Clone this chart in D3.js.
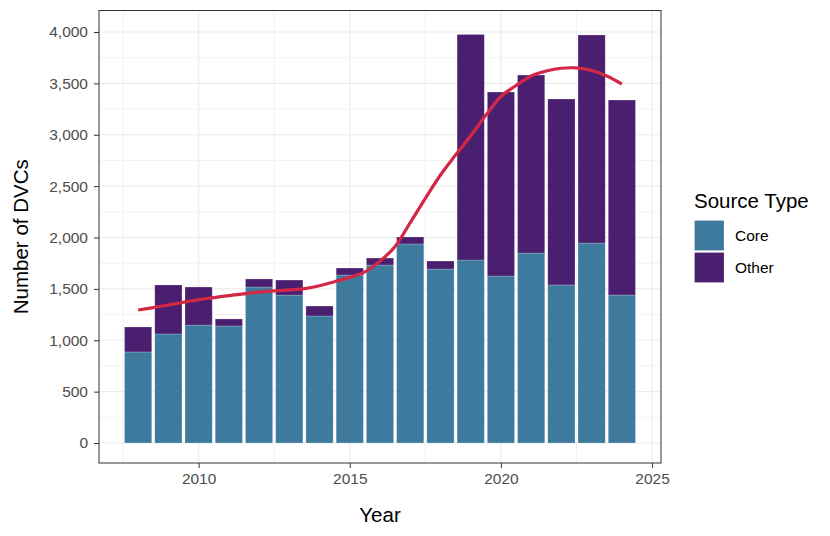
<!DOCTYPE html>
<html><head><meta charset="utf-8">
<script src="https://cdn.jsdelivr.net/npm/d3@7"></script>
<style>body{margin:0;background:#fff}svg{display:block}</style>
</head><body>
<script>
const years = [2008,2009,2010,2011,2012,2013,2014,2015,2016,2017,2018,2019,2020,2021,2022,2023,2024];
const coreValues  = [886,1061,1148,1139,1518,1440,1236,1635,1732,1937,1693,1781,1625,1849,1538,1946,1440];
const totalValues = [1129,1538,1518,1207,1596,1586,1333,1703,1800,2005,1771,3976,3416,3581,3348,3971,3338];
const otherValues = totalValues.map((t,i)=>t-coreValues[i]);
const smoothYears = [2008,2008.5,2009,2009.5,2010,2010.5,2011,2011.5,2012,2012.5,2013,2013.5,2014,2014.5,2015,2015.5,2016,2016.5,2017,2017.5,2018,2018.5,2019,2019.5,2020,2020.5,2021,2021.5,2022,2022.5,2023,2023.5,2024];
const smoothValues = [1294,1318,1343,1370,1395,1415,1435,1452,1468,1480,1490,1502,1530,1570,1612,1665,1770,1913,2145,2381,2608,2803,2991,3189,3372,3479,3572,3620,3647,3650,3625,3572,3494];
const yTicks = [0,500,1000,1500,2000,2500,3000,3500,4000];
const xTicks = [2010,2015,2020,2025];
const seriesNames = ["Core","Other"];
const colors = {Core:"#3E7A9E", Other:"#4B1F70"};

const W=830,H=536;
const pL=99,pR=661,pT=10.5,pB=463;
const svg=d3.select("body").append("svg").attr("width",W).attr("height",H);
const font="'Liberation Sans', Arial, sans-serif";

const x=d3.scaleLinear().domain([2006.705,2025.295]).range([pL,pR]);
const y=d3.scaleLinear().domain([0,4000]).range([443,32]);

svg.append("rect").attr("x",pL).attr("y",pT).attr("width",pR-pL).attr("height",pB-pT).attr("fill","#fff");
const g=svg.append("g");
const yMinor=yTicks.slice(0,-1).map(v=>v+250).concat([-250]).filter(v=>y(v)>pT&&y(v)<pB);
const xMinor=[2007.5,2012.5,2017.5,2022.5];
g.selectAll(".ym").data(yMinor).join("line").attr("x1",pL).attr("x2",pR).attr("y1",d=>y(d)).attr("y2",d=>y(d)).attr("stroke","#ebebeb").attr("stroke-width",0.6);
g.selectAll(".xm").data(xMinor).join("line").attr("y1",pT).attr("y2",pB).attr("x1",d=>x(d)).attr("x2",d=>x(d)).attr("stroke","#ebebeb").attr("stroke-width",0.6);
g.selectAll(".yM").data(yTicks).join("line").attr("x1",pL).attr("x2",pR).attr("y1",d=>y(d)).attr("y2",d=>y(d)).attr("stroke","#ebebeb").attr("stroke-width",1.2);
g.selectAll(".xM").data(xTicks).join("line").attr("y1",pT).attr("y2",pB).attr("x1",d=>x(d)).attr("x2",d=>x(d)).attr("stroke","#ebebeb").attr("stroke-width",1.2);

const bw=x(0.9)-x(0);
const stackData=years.map((yr,i)=>({year:yr,Core:coreValues[i],Other:otherValues[i]}));
const stacked=d3.stack().keys(seriesNames)(stackData);
stacked.forEach(layer=>{
  g.selectAll(null).data(layer).join("rect")
    .attr("x",d=>x(d.data.year)-bw/2).attr("width",bw)
    .attr("y",d=>y(d[1])).attr("height",d=>y(d[0])-y(d[1]))
    .attr("fill",colors[layer.key]).attr("stroke","#ffffff").attr("stroke-opacity",0.35).attr("stroke-width",0.6);
});

const line=d3.line().x((d,i)=>x(smoothYears[i])).y(d=>y(d)).curve(d3.curveCatmullRom);
g.append("path").datum(smoothValues).attr("d",line).attr("fill","none").attr("stroke","#D42746").attr("stroke-width",3.2);

svg.append("rect").attr("x",pL).attr("y",pT).attr("width",pR-pL).attr("height",pB-pT).attr("fill","none").attr("stroke","#333").attr("stroke-width",1);

const ya=svg.append("g").attr("transform",`translate(${pL},0)`).call(d3.axisLeft(y).tickValues(yTicks).tickFormat(d3.format(",")).tickSize(5).tickPadding(6));
const xa=svg.append("g").attr("transform",`translate(0,${pB})`).call(d3.axisBottom(x).tickValues(xTicks).tickFormat(d3.format("d")).tickSize(5).tickPadding(5));
[ya,xa].forEach(a=>{a.select(".domain").remove();a.selectAll(".tick line").attr("stroke","#333");a.selectAll("text").attr("fill","#4d4d4d").style("font-family",font).style("font-size","15.5px");});

svg.append("text").attr("x",(pL+pR)/2).attr("y",522).attr("text-anchor","middle").style("font-family",font).style("font-size","20.5px").attr("fill","#000").text("Year");
svg.append("text").attr("transform",`translate(28,${(pT+pB)/2}) rotate(-90)`).attr("text-anchor","middle").style("font-family",font).style("font-size","20.5px").attr("fill","#000").text("Number of DVCs");

const lg=svg.append("g");
lg.append("text").attr("x",694).attr("y",207.5).style("font-family",font).style("font-size","20.5px").attr("fill","#000").text("Source Type");
seriesNames.forEach((s,i)=>{
  const ky=220.5+i*32;
  lg.append("rect").attr("x",694.5).attr("y",ky).attr("width",29.5).attr("height",30).attr("fill",colors[s]).attr("stroke","#fff").attr("stroke-opacity",0.35).attr("stroke-width",0.6);
  lg.append("text").attr("x",735).attr("y",ky+15).attr("dy","0.35em").style("font-family",font).style("font-size","15.5px").attr("fill","#000").text(s);
});
</script>
</body></html>
